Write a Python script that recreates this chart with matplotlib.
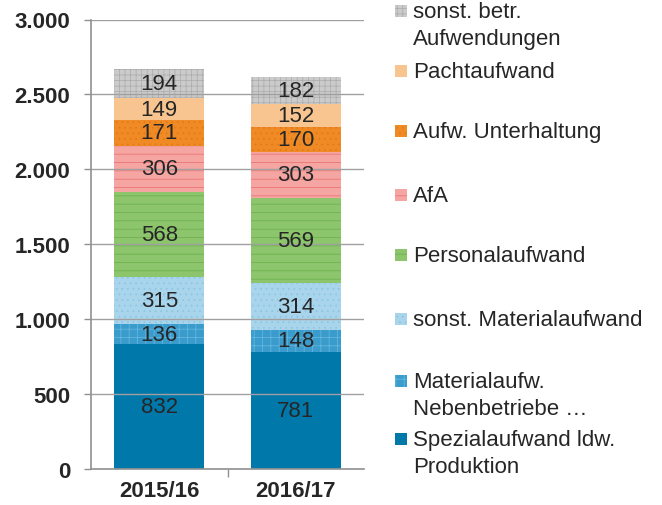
import numpy as np
import matplotlib
matplotlib.use("Agg")
import matplotlib.pyplot as plt
from matplotlib.patches import Rectangle

plt.rcParams['font.family'] = ['Liberation Sans', 'DejaVu Sans']
plt.rcParams['hatch.linewidth'] = 0.5

# Data (stacked from bottom to top)
years = ['2015/16', '2016/17']
series = ['Spezialaufwand ldw.\nProduktion', 'Materialaufw.\nNebenbetriebe …',
          'sonst. Materialaufwand', 'Personalaufwand', 'AfA',
          'Aufw. Unterhaltung', 'Pachtaufwand', 'sonst. betr.\nAufwendungen']
vals_1516 = [832, 136, 315, 568, 306, 171, 149, 194]
vals_1617 = [781, 148, 314, 569, 303, 170, 152, 182]
yticks = [0, 500, 1000, 1500, 2000, 2500, 3000]

colors = ['#0078aa', '#3a9ccc', '#a9d5ec', '#8dc56c', '#f5a6a3',
          '#ef8a25', '#f8c590', '#cbcbcb']
hatchcols = ['#0078aa', '#6cb8de', '#8cc4e2', '#6aae48', '#e86a6a',
             '#e07a18', '#f3b478', '#ababab']
hatches = [None, '++', '...', '--', '--', '...', None, '+++']

data = np.array([vals_1516, vals_1617])

fig = plt.figure(figsize=(6.62, 5.06), dpi=100)
ax = fig.add_axes([91/662, 36/506, 273/662, 449.5/506])

x = np.arange(len(years))
bottom = np.zeros(len(years))
for i, name in enumerate(series):
    v = data[:, i]
    ax.bar(x, v, 0.663, bottom=bottom, color=colors[i],
           edgecolor=hatchcols[i], linewidth=0, hatch=hatches[i], zorder=2)
    for xi, b, val in zip(x, bottom, v):
        ax.text(xi, b + val / 2, f'{val}', ha='center', va='center',
                fontsize=16, color='#262626', zorder=4)
    bottom += v

ax.set_xlim(-0.5, 1.5)
ax.set_ylim(0, 3000)
ax.set_yticks(yticks)
ax.set_yticklabels([f'{t:,}'.replace(',', '.') for t in yticks],
                   fontsize=16, fontweight='bold', color='#262626')
ax.set_xticks(x)
ax.set_xticklabels(years, fontsize=16, fontweight='bold', color='#262626')
ax.tick_params(axis='x', length=0, pad=8)
ax.set_xticks([0.5], minor=True)
ax.tick_params(axis='x', which='minor', length=6, color='#909090', width=1)
ax.tick_params(axis='y', length=5, color='#909090', width=1, pad=10)
ax.grid(axis='y', color='#a0a0a0', linewidth=1, zorder=3)
ax.set_axisbelow(False)
for s in ['top', 'right']:
    ax.spines[s].set_visible(False)
for s in ['left', 'bottom']:
    ax.spines[s].set_color('#909090')
    ax.spines[s].set_linewidth(1.2)

# legend, drawn by hand to follow the original spacing
leg_y = [440, 382, 320, 256, 196, 132, 72, 12]
for i, name in enumerate(series):
    yc = leg_y[i]
    fig.patches.append(Rectangle((395/662, 1 - (yc + 6)/506), 12/662, 12/506,
                                 transform=fig.transFigure, facecolor=colors[i],
                                 edgecolor=hatchcols[i], linewidth=0,
                                 hatch=hatches[i]))
    fig.text(413/662, 1 - (yc - 10)/506, name, ha='left', va='top',
             fontsize=16, color='#262626', linespacing=1.35)

fig.savefig('out.png', dpi=100)
